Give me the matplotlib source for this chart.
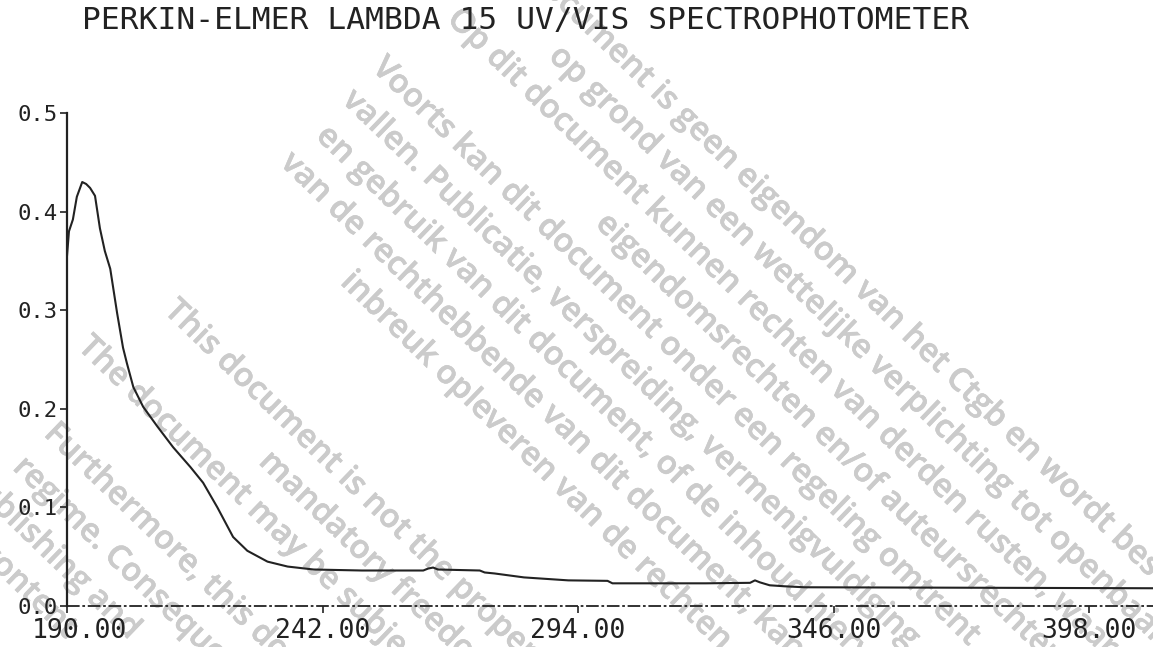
import numpy as np
import matplotlib.pyplot as plt
import matplotlib.patheffects as pe
from matplotlib.ticker import FormatStrFormatter
from matplotlib.transforms import ScaledTranslation

plt.rcParams['font.family'] = ['DejaVu Sans Mono']

title = "PERKIN-ELMER LAMBDA 15 UV/VIS SPECTROPHOTOMETER"

# spectrum (nm, absorbance)
wavelength = [190.0, 190.4, 191.2, 192.0, 193.1, 193.9, 194.7, 195.7, 196.7, 197.7,
              198.8, 200.2, 201.4, 202.2, 203.5, 205.5, 208.4, 211.6, 215.1, 217.7,
              220.6, 222.2, 223.8, 226.7, 230.8, 234.9, 240.2, 250.0, 262.5, 263.5,
              264.5, 265.5, 274.0, 275.0, 277.0, 280.0, 283.0, 289.0, 292.0, 300.0,
              301.0, 320.0, 329.0, 330.0, 331.0, 333.0, 336.0, 340.0, 411.0]
absorbance = [0.355, 0.380, 0.392, 0.415, 0.430, 0.428, 0.424, 0.416, 0.383, 0.360,
              0.342, 0.297, 0.262, 0.246, 0.222, 0.202, 0.182, 0.161, 0.141, 0.125,
              0.100, 0.085, 0.070, 0.056, 0.045, 0.040, 0.037, 0.036, 0.036, 0.038,
              0.039, 0.037, 0.036, 0.034, 0.033, 0.031, 0.029, 0.027, 0.026, 0.0255,
              0.023, 0.023, 0.0235, 0.026, 0.024, 0.021, 0.020, 0.019, 0.018]

xticks = [190, 242, 294, 346, 398]
yticks = [0.0, 0.1, 0.2, 0.3, 0.4, 0.5]

# watermark lines stamped over the scan
watermark = [
    "Dit document is geen eigendom van het Ctgb en wordt beschikbaar gesteld",
    "op grond van een wettelijke verplichting tot openbaarmaking.",
    "Op dit document kunnen rechten van derden rusten, waardoor",
    "eigendomsrechten en/of auteursrechten",
    "Voorts kan dit document onder een regeling omtrent",
    "vallen. Publicatie, verspreiding, vermenigvuldiging",
    "en gebruik van dit document, of de inhoud hiervan,",
    "van de rechthebbende van dit document, kan",
    "inbreuk opleveren van de rechten",
    "This document is not the property of the Ctgb and is made available",
    "mandatory freedom of information regime.",
    "The document may be subject to third party rights,",
    "Furthermore, this document may be subject",
    "regime. Consequently, any",
    "publishing and",
    "content",
]
# layout: start along the slant and offset across it, in pixels
wm_start = [309, 434, 335, 584, 315, 316, 322, 315, 441, 334, 507, 297, 333, 334, 305, 370]
wm_off = [-392, -348, -304, -260, -217, -173, -129, -85, -41, 102, 145, 188, 274, 320, 362, 405]

W, H = 1153, 647
fig = plt.figure(figsize=(W / 100, H / 100), dpi=100)

ang = np.deg2rad(44)
d = np.array([np.cos(ang), np.sin(ang)])
n = np.array([-np.sin(ang), np.cos(ang)])
wm_col = '#cbcbcb'
for txt, s, o in zip(watermark, wm_start, wm_off):
    px, py = s * d + (o + 9) * n
    fig.text(px / W, 1 - py / H, txt, rotation=-44, rotation_mode='anchor',
             ha='left', va='baseline', fontsize=23.5, color=wm_col,
             family=['Open Sans', 'DejaVu Sans'], weight='semibold', zorder=0,
             path_effects=[pe.withStroke(linewidth=0.4, foreground=wm_col)])

ax = fig.add_axes([67 / W, (H - 606) / H, (W - 67) / W, 493 / H], zorder=1)
ax.set_facecolor('none')
ax.plot(wavelength, absorbance, color='#222222', lw=1.5)
ax.axhline(0, color='#222222', lw=1.3, ls=(0, (7, 1.5, 1.5, 1.5)), clip_on=False)

ax.set_xlim(190, 411)
ax.set_ylim(0, 0.5)
ax.set_xticks(xticks)
ax.set_yticks(yticks)
ax.xaxis.set_major_formatter(FormatStrFormatter('%.2f'))
ax.yaxis.set_major_formatter(FormatStrFormatter('%.1f'))
for sp in ['top', 'right', 'bottom']:
    ax.spines[sp].set_visible(False)
ax.spines['left'].set_linewidth(1.6)
ax.spines['left'].set_color('#222222')
ax.tick_params(axis='y', direction='out', length=5, width=1.2, labelsize=16,
               pad=2, colors='#222222')
ax.tick_params(axis='x', direction='out', length=5, width=1.2, labelsize=19,
               pad=4, colors='#222222')

# the plotter nudged the first x label to the right
first = ax.xaxis.get_major_ticks()[0].label1
first.set_transform(first.get_transform() + ScaledTranslation(0.12, 0, fig.dpi_scale_trans))

fig.text(526 / W, 1 - 20 / H, title, ha='center', va='center', fontsize=22.5,
         color='#222222')

fig.savefig('out.png', dpi=100)
